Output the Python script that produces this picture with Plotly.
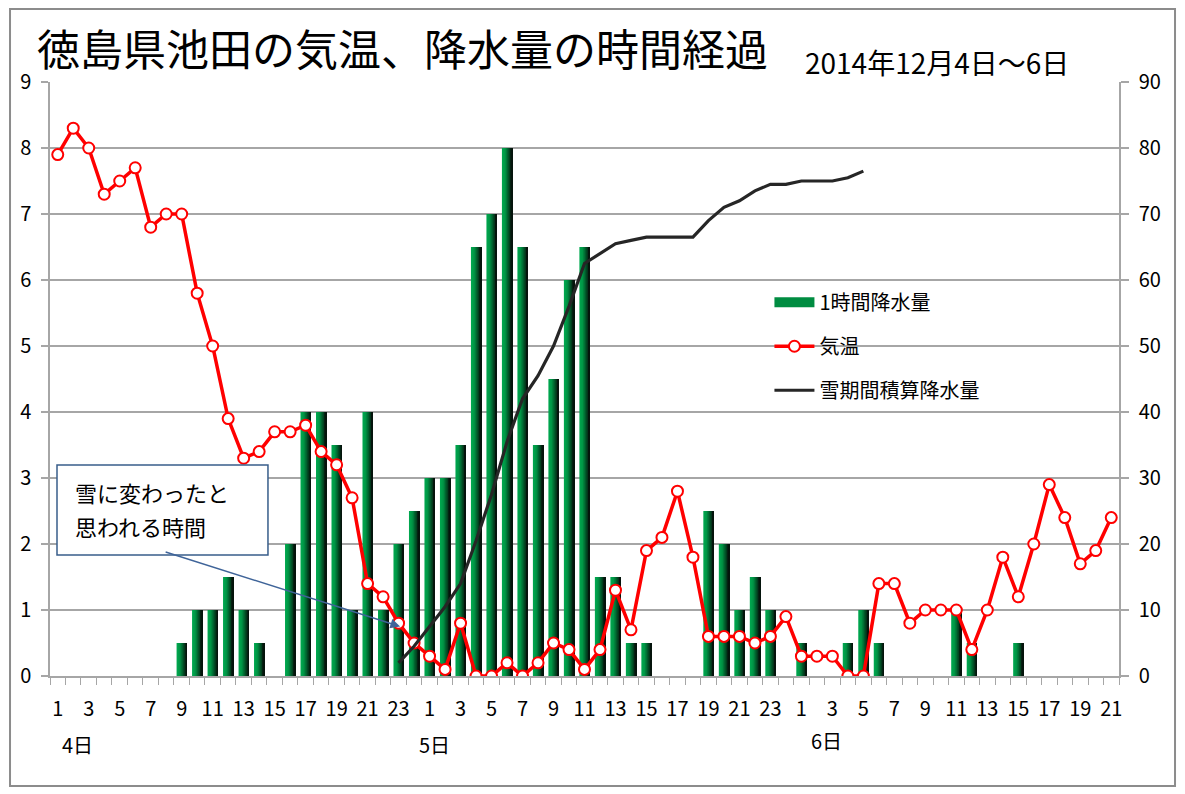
import plotly.graph_objects as go

# ---- data ----
day4_hours = list(range(1, 25))
day5_hours = list(range(1, 25))
day6_hours = list(range(1, 22))
hour_labels = day4_hours + day5_hours + day6_hours
day_labels = ["4日", "5日", "6日"]

precip = [0, 0, 0, 0, 0, 0, 0, 0, 0.5, 1.0, 1.0, 1.5, 1.0, 0.5, 0, 2.0, 4.0, 4.0, 3.5, 1.0, 4.0, 1.0, 2.0, 2.5,
          3.0, 3.0, 3.5, 6.5, 7.0, 8.0, 6.5, 3.5, 4.5, 6.0, 6.5, 1.5, 1.5, 0.5, 0.5, 0, 0, 0, 2.5, 2.0, 1.0, 1.5, 1.0, 0,
          0.5, 0, 0, 0.5, 1.0, 0.5, 0, 0, 0, 0, 1.0, 0.5, 0, 0, 0.5, 0, 0, 0, 0, 0, 0]

temp = [7.9, 8.3, 8.0, 7.3, 7.5, 7.7, 6.8, 7.0, 7.0, 5.8, 5.0, 3.9, 3.3, 3.4, 3.7, 3.7, 3.8, 3.4, 3.2, 2.7, 1.4, 1.2, 0.8, 0.5,
        0.3, 0.1, 0.8, 0.0, 0.0, 0.2, 0.0, 0.2, 0.5, 0.4, 0.1, 0.4, 1.3, 0.7, 1.9, 2.1, 2.8, 1.8, 0.6, 0.6, 0.6, 0.5, 0.6, 0.9,
        0.3, 0.3, 0.3, 0.0, 0.0, 1.4, 1.4, 0.8, 1.0, 1.0, 1.0, 0.4, 1.0, 1.8, 1.2, 2.0, 2.9, 2.4, 1.7, 1.9, 2.4]

# cumulative snowfall-period precipitation (starts at day4 23h, ends day6 5h)
cum_start = 23
cumulative = [2.0, 4.5, 7.5, 10.5, 14.0, 20.5, 27.5, 35.5, 42.0, 45.5, 50.0, 56.0, 62.5, 64.0, 65.5, 66.0, 66.5,
              66.5, 66.5, 66.5, 69.0, 71.0, 72.0, 73.5, 74.5, 74.5, 75.0, 75.0, 75.0, 75.5, 76.5]

series_names = ["1時間降水量", "気温", "雪期間積算降水量"]
callout_lines = ["雪に変わったと", "思われる時間"]

# ---- figure ----
n = len(hour_labels)
xs = list(range(1, n + 1))
xs_cum = xs[cum_start - 1:cum_start - 1 + len(cumulative)]

FONT = "Noto Sans CJK JP, Noto Sans, sans-serif"
fig = go.Figure()

# gradient bars (green -> black) built from overlapping slices
N = 14
w = 0.66
def grad(t):
    if t < 0.3:
        c0, c1, tt = (0, 168, 80), (0, 150, 70), t / 0.3
    else:
        c0, c1, tt = (0, 150, 70), (5, 20, 12), (t - 0.3) / 0.7
    return "rgb(%d,%d,%d)" % tuple(round(a + (b - a) * tt) for a, b in zip(c0, c1))

for k in range(N):
    fig.add_trace(go.Bar(
        x=xs, y=precip, width=w - k * w / N, offset=-w / 2 + k * w / N,
        marker=dict(color=grad(k / (N - 1)), line=dict(width=0)),
        name=series_names[0], legendgroup="g1", showlegend=False,
        hoverinfo="skip" if k else None,
    ))
# legend swatch for the bars (wide rectangle like the original)
fig.add_trace(go.Scatter(
    x=[None], y=[None], mode="lines", line=dict(color="rgb(0,140,65)", width=14),
    name=series_names[0], legendgroup="g1", legendrank=1, showlegend=True,
))

fig.add_trace(go.Scatter(
    x=xs_cum, y=cumulative, yaxis="y2", mode="lines",
    line=dict(color="#262626", width=3.2), name=series_names[2],
    legendgroup="g3", legendrank=3,
))
fig.add_trace(go.Scatter(
    x=xs, y=temp, mode="lines+markers",
    line=dict(color="#FF0000", width=3.5),
    marker=dict(symbol="circle", size=11, color="white", line=dict(color="#FF0000", width=2)),
    name=series_names[1], legendgroup="g2", legendrank=2,
))

tickvals = xs[::2]
ticktext = [str(h) for h in hour_labels[::2]]

fig.update_layout(
    width=1185, height=794,
    margin=dict(l=50, r=66, t=82, b=118),
    paper_bgcolor="white", plot_bgcolor="white",
    barmode="overlay",
    font=dict(family=FONT, size=20, color="black"),
    showlegend=True,
    legend=dict(x=0.673, y=0.662, xanchor="left", yanchor="top",
                font=dict(size=20), traceorder="grouped", tracegroupgap=15,
                bgcolor="rgba(0,0,0,0)", itemwidth=40),
    xaxis=dict(range=[0.5, n + 0.5], tickmode="array", tickvals=tickvals, ticktext=ticktext,
               showgrid=False, zeroline=False, showline=True, linecolor="#A6A6A6", linewidth=1.5,
               ticks="", ticklabelstandoff=14, tickfont=dict(size=20),
               minor=dict(tick0=0.5, dtick=1, ticks="outside", ticklen=7, tickcolor="#A6A6A6",
                          tickwidth=1, showgrid=False)),
    yaxis=dict(range=[0, 9], dtick=1, showgrid=True, gridcolor="#A6A6A6", gridwidth=1.5,
               zeroline=False, showline=True, linecolor="#A6A6A6", linewidth=1.5,
               ticks="outside", ticklen=7, tickcolor="#A6A6A6", tickwidth=1.5,
               tickfont=dict(size=20), ticklabelstandoff=6),
    yaxis2=dict(range=[0, 90], dtick=10, overlaying="y", side="right", showgrid=False,
                zeroline=False, showline=True, linecolor="#A6A6A6", linewidth=1.5,
                ticks="outside", ticklen=8, tickcolor="#A6A6A6", tickwidth=1.5,
                tickfont=dict(size=20), ticklabelstandoff=6),
)

# outer frame
fig.add_shape(type="rect", xref="paper", yref="paper",
              x0=-0.0374, x1=1.0524, y0=-0.1852, y1=1.1229,
              line=dict(color="#8C8C8C", width=2), fillcolor="rgba(0,0,0,0)", layer="below")

# titles
fig.add_annotation(text="徳島県池田の気温、降水量の時間経過", xref="paper", yref="paper",
                   x=-0.014, y=1.0585, xanchor="left", yanchor="middle", showarrow=False,
                   font=dict(size=43, family=FONT, color="black"))
fig.add_annotation(text="2014年12月4日～6日", xref="paper", yref="paper",
                   x=0.7044, y=1.034, xanchor="left", yanchor="middle", showarrow=False,
                   font=dict(size=28, family=FONT, color="black"))

# day labels
for lab, xpos, ypos in zip(day_labels, [2.3, 25.3, 50.6], [-0.116, -0.116, -0.108]):
    fig.add_annotation(text=lab, x=xpos, xref="x", y=ypos, yref="paper", showarrow=False,
                       xanchor="center", yanchor="middle", font=dict(size=20))

# callout box (shape) + two text lines + arrow
fig.add_shape(type="rect", xref="paper", yref="paper",
              x0=0.00655, x1=0.2039, y0=0.2037, y1=0.3552,
              line=dict(color="#385D8A", width=1.5), fillcolor="white", layer="above")
for line_text, ypix in zip(callout_lines, [492, 526]):
    fig.add_annotation(text=line_text, xref="paper", yref="paper",
                       x=(73 - 50) / 1069, y=(676 - ypix) / 594, xanchor="left", yanchor="middle",
                       showarrow=False, font=dict(size=22, color="black"))
fig.add_annotation(text="", x=23.1, xref="x", y=0.75, yref="y", ax=-236, ay=-75,
                   showarrow=True, arrowhead=2, arrowsize=1.3, arrowwidth=1.5, arrowcolor="#3F6499")

fig.write_html("out.html")
